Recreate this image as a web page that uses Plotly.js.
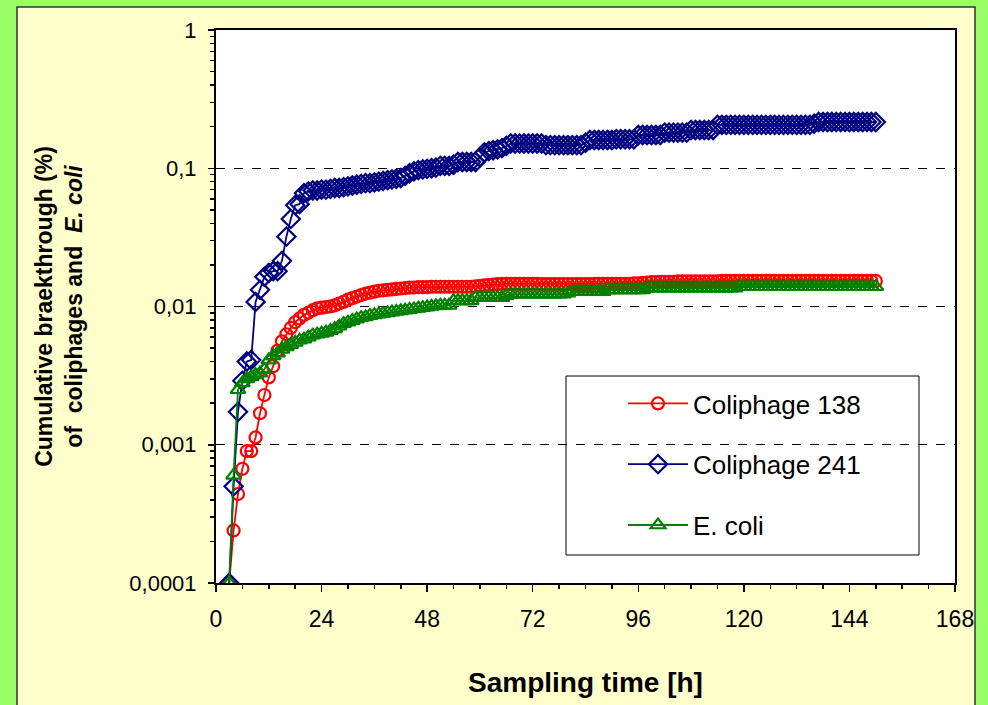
<!DOCTYPE html>
<html>
<head>
<meta charset="utf-8">
<script src="https://cdn.plot.ly/plotly-3.0.1.min.js"></script>
<style>
html,body{margin:0;padding:0;background:#99FF66;}
#chart{width:988px;height:705px;}
</style>
</head>
<body>
<div id="chart"></div>
<script>
// Sampling time [h]
const timeH = [3,4,5,6,7,8,9,10,11,12,13,14,15,16,17,18,19,20,21,22,23,24,25,26,27,28,29,30,
  31,32,33,34,35,36,37,38,39,40,41,42,43,44,45,46,47,48,49,50,51,52,53,54,55,56,57,58,59,60,
  61,62,63,64,65,66,67,68,69,70,71,72,73,74,75,76,77,78,79,80,81,82,83,84,85,86,87,88,89,90,
  91,92,93,94,95,96,97,98,99,100,101,102,103,104,105,106,107,108,109,110,111,112,113,114,115,116,117,118,119,120,
  121,122,123,124,125,126,127,128,129,130,131,132,133,134,135,136,137,138,139,140,141,142,143,144,145,146,147,148,149,150];

// Coliphage 138 (%)
const coliphage138 = [0.0001,0.00024,0.00044,0.00067,0.0009,0.0009,0.00113,0.00169,0.00229,0.00307,0.0037,0.0048,0.0056,0.0063,0.0070,0.0077,0.0082,0.0087,0.0090,0.0094,0.0097,0.0098,0.0099,0.0100,
  0.0102,0.0105,0.0108,0.0112,0.0115,0.0118,0.0121,0.0124,0.0126,0.0128,0.0130,0.0131,0.0132,0.0133,0.0134,0.0135,0.0136,0.0137,0.0137,0.0138,0.0138,0.0138,0.0139,0.0139,
  0.0139,0.0139,0.0139,0.0139,0.0139,0.0139,0.0139,0.0139,0.0140,0.0141,0.0142,0.0143,0.0144,0.0145,0.0146,0.0146,0.0146,0.0146,0.0146,0.0146,0.0146,0.0146,0.0146,0.0145,
  0.0145,0.0145,0.0145,0.0145,0.0145,0.0145,0.0145,0.0145,0.0145,0.0145,0.0145,0.0146,0.0146,0.0146,0.0146,0.0146,0.0146,0.0146,0.0146,0.0146,0.0147,0.0147,0.0148,0.0149,
  0.0150,0.0150,0.0151,0.0151,0.0151,0.0151,0.0152,0.0152,0.0152,0.0152,0.0152,0.0152,0.0152,0.0152,0.0152,0.0152,0.0153,0.0153,0.0153,0.0153,0.0153,0.0153,0.0153,0.0153,
  0.0153,0.0153,0.0153,0.0153,0.0153,0.0153,0.0153,0.0153,0.0153,0.0153,0.0153,0.0153,0.0153,0.0153,0.0153,0.0153,0.0153,0.0153,0.0153,0.0153,0.0153,0.0153,0.0153,0.0153,
  0.0153,0.0153,0.0153,0.0153];

// Coliphage 241 (%)
const coliphage241 = [0.0001,0.0005,0.00173,0.0029,0.0040,0.0041,0.0108,0.0132,0.0164,0.0175,0.0180,0.0180,0.0214,0.032,0.043,0.054,0.055,0.066,0.068,0.069,0.069,0.070,0.070,0.071,
  0.072,0.072,0.073,0.074,0.075,0.076,0.077,0.078,0.078,0.079,0.080,0.081,0.082,0.083,0.084,0.085,0.088,0.092,0.095,0.097,0.098,0.099,0.100,0.101,
  0.104,0.104,0.104,0.106,0.111,0.111,0.111,0.111,0.111,0.120,0.130,0.133,0.135,0.137,0.140,0.145,0.151,0.151,0.151,0.151,0.151,0.151,0.151,0.151,
  0.147,0.147,0.147,0.147,0.147,0.147,0.147,0.147,0.147,0.153,0.160,0.160,0.160,0.160,0.160,0.160,0.162,0.162,0.162,0.162,0.162,0.174,0.174,0.174,
  0.174,0.174,0.174,0.181,0.181,0.181,0.181,0.181,0.181,0.189,0.189,0.189,0.189,0.189,0.189,0.206,0.206,0.206,0.206,0.206,0.206,0.206,0.206,0.206,
  0.206,0.206,0.206,0.206,0.206,0.206,0.206,0.206,0.206,0.206,0.206,0.206,0.206,0.210,0.216,0.216,0.216,0.216,0.216,0.216,0.216,0.216,0.216,0.216,
  0.216,0.216,0.216,0.216];

// E. coli (%)
const eColi = [0.0001,0.0006,0.0025,0.0028,0.0030,0.0031,0.0032,0.0033,0.0035,0.0041,0.0044,0.0046,0.0049,0.0051,0.0053,0.0055,0.0057,0.0058,0.0060,0.0062,0.0063,0.0064,0.0065,0.0067,
  0.0069,0.0072,0.0075,0.0077,0.0079,0.0081,0.0083,0.0084,0.0086,0.0087,0.0088,0.0089,0.0090,0.0091,0.0092,0.0093,0.0094,0.0095,0.0096,0.0097,0.0098,0.0099,0.0100,0.0101,
  0.0102,0.0102,0.0102,0.0110,0.0110,0.0110,0.0110,0.0110,0.0116,0.0116,0.0116,0.0116,0.0116,0.0116,0.0116,0.0120,0.0123,0.0123,0.0123,0.0123,0.0123,0.0123,0.0123,0.0123,
  0.0123,0.0123,0.0123,0.0123,0.0123,0.0125,0.0128,0.0128,0.0128,0.0128,0.0128,0.0128,0.0128,0.0128,0.0132,0.0132,0.0132,0.0132,0.0132,0.0132,0.0132,0.0132,0.0132,0.0136,
  0.0136,0.0136,0.0136,0.0136,0.0136,0.0136,0.0136,0.0136,0.0136,0.0136,0.0136,0.0136,0.0136,0.0136,0.0136,0.0136,0.0136,0.0136,0.0136,0.0136,0.0139,0.0139,0.0139,0.0139,
  0.0139,0.0139,0.0139,0.0139,0.0139,0.0139,0.0139,0.0139,0.0139,0.0139,0.0139,0.0139,0.0139,0.0139,0.0139,0.0139,0.0139,0.0139,0.0139,0.0139,0.0139,0.0139,0.0139,0.0139,
  0.0139,0.0139,0.0139,0.0139];

const seriesNames = ["Coliphage 138", "Coliphage 241", "E. coli"];
const yTickVals = [0.0001, 0.001, 0.01, 0.1, 1];
const yTickText = ["0,0001", "0,001", "0,01", "0,1", "1"];
const xTickVals = [0, 24, 48, 72, 96, 120, 144, 168];

const FONT = "Arial, 'Liberation Sans', sans-serif";

const traces = [
  {x: timeH, y: coliphage138, name: seriesNames[0], type: "scatter", mode: "lines+markers",
   legendgroup: "a",
   line: {color: "#FF0000", width: 1.8},
   marker: {symbol: "circle-open", size: 12, color: "#FF0000", line: {width: 2.2, color: "#FF0000"}}},
  {x: timeH, y: coliphage241, name: seriesNames[1], type: "scatter", mode: "lines+markers",
   legendgroup: "b",
   line: {color: "#000080", width: 1.8},
   marker: {symbol: "diamond-open", size: 14, color: "#000080", line: {width: 2.2, color: "#000080"}}},
  {x: timeH, y: eColi, name: seriesNames[2], type: "scatter", mode: "lines+markers",
   legendgroup: "c",
   line: {color: "#008000", width: 1.8},
   marker: {symbol: "triangle-up-open", size: 13, color: "#008000", line: {width: 2.2, color: "#008000"}}}
];

// paper-coordinate helpers from pixel positions of the plot area (216..955, 30..583)
const L = 216, R = 955, T = 30, B = 583;
const px = v => (v - L) / (R - L);
const py = v => (B - v) / (B - T);

const layout = {
  width: 988, height: 705,
  margin: {l: L, r: 988 - R, t: T, b: 705 - B, pad: 0},
  paper_bgcolor: "#99FF66",
  plot_bgcolor: "#FFFFFF",
  font: {family: FONT, color: "#000000"},
  showlegend: true,
  legend: {
    x: px(623), y: py(380), xanchor: "left", yanchor: "top",
    bgcolor: "rgba(0,0,0,0)", borderwidth: 0,
    font: {family: FONT, size: 26, color: "#000"},
    traceorder: "grouped", tracegroupgap: 24, itemwidth: 60
  },
  xaxis: {
    range: [0, 168], tickmode: "array", tickvals: xTickVals,
    ticks: "outside", ticklen: 7, tickwidth: 1.5, tickcolor: "#000",
    minor: {dtick: 6, tick0: 0, ticks: "outside", ticklen: 4, tickcolor: "#000", showgrid: false},
    showline: true, linecolor: "#000", linewidth: 2, mirror: true,
    showgrid: false, zeroline: false,
    tickfont: {family: FONT, size: 23},
    ticklabelstandoff: 7,
    title: {text: "<b>Sampling time [h]</b>", font: {family: FONT, size: 28}, standoff: 42}
  },
  yaxis: {
    type: "log", range: [-4, 0], tickmode: "array", tickvals: yTickVals, ticktext: yTickText,
    ticks: "outside", ticklen: 6, tickwidth: 1.5, tickcolor: "#000",
    minor: {ticks: "outside", ticklen: 4, tickcolor: "#000", showgrid: false, dtick: "D1"},
    showline: true, linecolor: "#000", linewidth: 2, mirror: true,
    showgrid: true, gridcolor: "#000", gridwidth: 1, griddash: "dash",
    zeroline: false,
    tickfont: {family: FONT, size: 22},
    ticklabelstandoff: 7,
    title: {text: "<b>Cumulative braekthrough (%)<br>of  coliphages and  <i>E. coli</i></b>",
            font: {family: FONT, size: 23}, standoff: 40}
  },
  shapes: [
    {type: "rect", xref: "paper", yref: "paper", layer: "below",
     x0: px(17), x1: px(975), y0: py(730), y1: py(7),
     fillcolor: "#FFFFCC", line: {color: "#333333", width: 1.5}},
    {type: "rect", xref: "paper", yref: "paper", layer: "below",
     x0: 0, x1: 1, y0: 0, y1: 1, fillcolor: "#FFFFFF", line: {width: 0}},
    {type: "rect", xref: "paper", yref: "paper", layer: "below",
     x0: px(566), x1: px(919), y0: py(555), y1: py(376),
     fillcolor: "#FFFFFF", line: {color: "#000", width: 1}}
  ]
};

Plotly.newPlot("chart", traces, layout, {staticPlot: true, displayModeBar: false});
</script>
</body>
</html>
